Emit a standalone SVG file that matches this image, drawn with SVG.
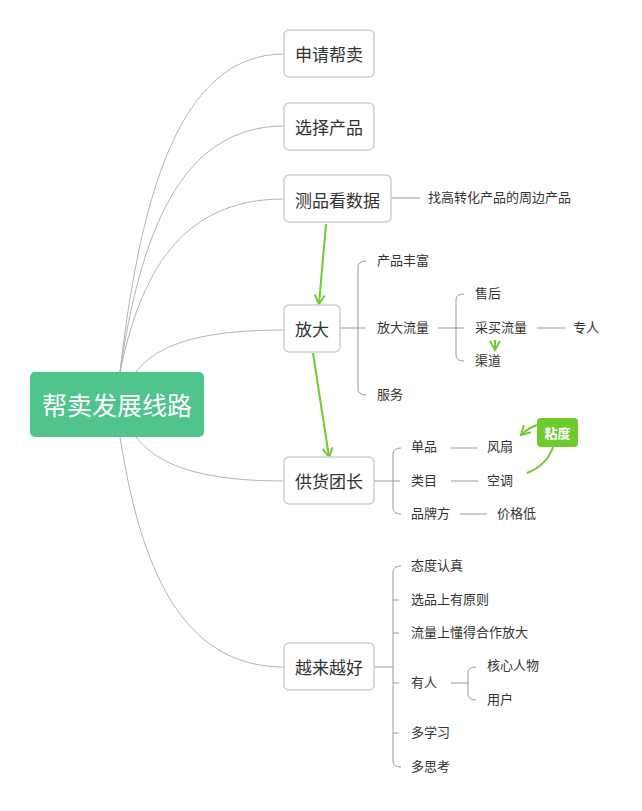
<svg xmlns="http://www.w3.org/2000/svg" width="642" height="811" viewBox="0 0 642 811">
<style>
.t{font-family:"Noto Sans CJK SC","Liberation Sans",sans-serif;fill:#333;dominant-baseline:central}
.n{font-size:17px;text-anchor:middle}
.c{font-size:13px}
.box{fill:#fff;stroke:#d0d0d0;stroke-width:1.5}
.cur{fill:none;stroke:#b4b4b4;stroke-width:1}
.br{fill:none;stroke:#999;stroke-width:1}
.g{fill:none;stroke:#6fcb30;stroke-width:2}
</style>
<defs>
<marker id="ah" viewBox="0 0 12 12" refX="10" refY="6" markerWidth="12" markerHeight="12" markerUnits="userSpaceOnUse" orient="auto">
<path d="M1,1 L10,6 L1,11" fill="none" stroke="#6fcb30" stroke-width="2"/>
</marker>
</defs>
<g id="connectors">
<path class="cur" d="M120,372 C140,197 179,54 284,54"/>
<path class="cur" d="M120,372 C140,237 179,126 284,126"/>
<path class="cur" d="M120,372 C140,276 179,199 284,199"/>
<path class="cur" d="M136,372 C154,349 189,330 284,330"/>
<path class="cur" d="M136,437 C154,460 189,481 284,481"/>
<path class="cur" d="M120,437 C140,563 179,667 284,667"/>
<path class="br" d="M391,198 H420"/>
<path class="br" d="M340,328 H366" stroke-width="2"/>
<path class="br" d="M366,261 Q358,261 358,267 V389 Q358,395 366,395"/>
<path class="br" d="M438,328 H464" stroke-width="2"/>
<path class="br" d="M464,294 Q456,294 456,300 V355 Q456,361 464,361"/>
<path class="br" d="M537,328 H565"/>
<path class="br" d="M374,481 H400"/>
<path class="br" d="M401,448 Q393,448 393,454 V508 Q393,514 401,514"/>
<path class="br" d="M451,448 H478 M451,481 H478 M460,514 H487"/>
<path class="br" d="M374,667 H393"/>
<path class="br" d="M401,566 Q393,566 393,572 V761 Q393,767 401,767"/>
<path class="br" d="M393,600 H399 M393,633 H399 M393,683 H399 M393,733 H399"/>
<path class="br" d="M451,683 H468"/>
<path class="br" d="M476,667 Q468,667 468,673 V694 Q468,700 476,700"/>
<path class="g" d="M326,224 L319,304" marker-end="url(#ah)"/>
<path class="g" d="M313,353 L329,457" marker-end="url(#ah)"/>
<path class="g" d="M495,340 L495,350" marker-end="url(#ah)"/>
<path class="g" d="M527,473 Q547,465 553,447"/>
<path class="g" d="M537,425 Q528,428 521,435" marker-end="url(#ah)"/>
</g>
<g id="root">
<rect x="30" y="372" width="174" height="65" rx="5" fill="#51c38c"/>
<text class="t" x="117" y="404" font-size="25" text-anchor="middle" style="fill:#fff">帮卖发展线路</text>
</g>
<g id="n1"><rect class="box" x="284" y="30" width="90" height="47" rx="5"/><text class="t n" x="329" y="53.5">申请帮卖</text></g>
<g id="n2"><rect class="box" x="284" y="103" width="90" height="47" rx="5"/><text class="t n" x="329" y="126.5">选择产品</text></g>
<g id="n3"><rect class="box" x="284" y="175" width="107" height="47" rx="5"/><text class="t n" x="337.5" y="199">测品看数据</text></g>
<g id="n3a"><text class="t c" x="428" y="196.5">找高转化产品的周边产品</text></g>
<g id="n4"><rect class="box" x="284" y="305" width="56" height="47" rx="5"/><text class="t n" x="312" y="328">放大</text></g>
<g id="n4a"><text class="t c" x="377" y="259.5">产品丰富</text></g>
<g id="n4b"><text class="t c" x="377" y="326.5">放大流量</text></g>
<g id="n4c"><text class="t c" x="377" y="393.5">服务</text></g>
<g id="n4b1"><text class="t c" x="475" y="292.5">售后</text></g>
<g id="n4b2"><text class="t c" x="475" y="326.5">采买流量</text></g>
<g id="n4b3"><text class="t c" x="475" y="359.5">渠道</text></g>
<g id="n4b2a"><text class="t c" x="573" y="326.5">专人</text></g>
<g id="n5"><rect class="box" x="284" y="457" width="90" height="47" rx="5"/><text class="t n" x="329" y="480.5">供货团长</text></g>
<g id="n5a"><text class="t c" x="411" y="445.5">单品</text></g>
<g id="n5b"><text class="t c" x="411" y="479.5">类目</text></g>
<g id="n5c"><text class="t c" x="411" y="512.5">品牌方</text></g>
<g id="n5a1"><text class="t c" x="487" y="445.5">风扇</text></g>
<g id="n5b1"><text class="t c" x="487" y="479.5">空调</text></g>
<g id="n5c1"><text class="t c" x="497" y="512.5">价格低</text></g>
<g id="label-niandu"><rect x="537" y="418" width="41" height="29" rx="4" fill="#6fca2f"/><text class="t" x="557.5" y="432" font-size="13" font-weight="bold" text-anchor="middle" style="fill:#fff">粘度</text></g>
<g id="n6"><rect class="box" x="284" y="643" width="90" height="47" rx="5"/><text class="t n" x="329" y="666.5">越来越好</text></g>
<g id="n6a"><text class="t c" x="411" y="564.5">态度认真</text></g>
<g id="n6b"><text class="t c" x="411" y="598.5">选品上有原则</text></g>
<g id="n6c"><text class="t c" x="411" y="631.5">流量上懂得合作放大</text></g>
<g id="n6d"><text class="t c" x="411" y="681.5">有人</text></g>
<g id="n6e"><text class="t c" x="411" y="731.5">多学习</text></g>
<g id="n6f"><text class="t c" x="411" y="765.5">多思考</text></g>
<g id="n6d1"><text class="t c" x="487" y="664.5">核心人物</text></g>
<g id="n6d2"><text class="t c" x="487" y="698.5">用户</text></g>
</svg>
